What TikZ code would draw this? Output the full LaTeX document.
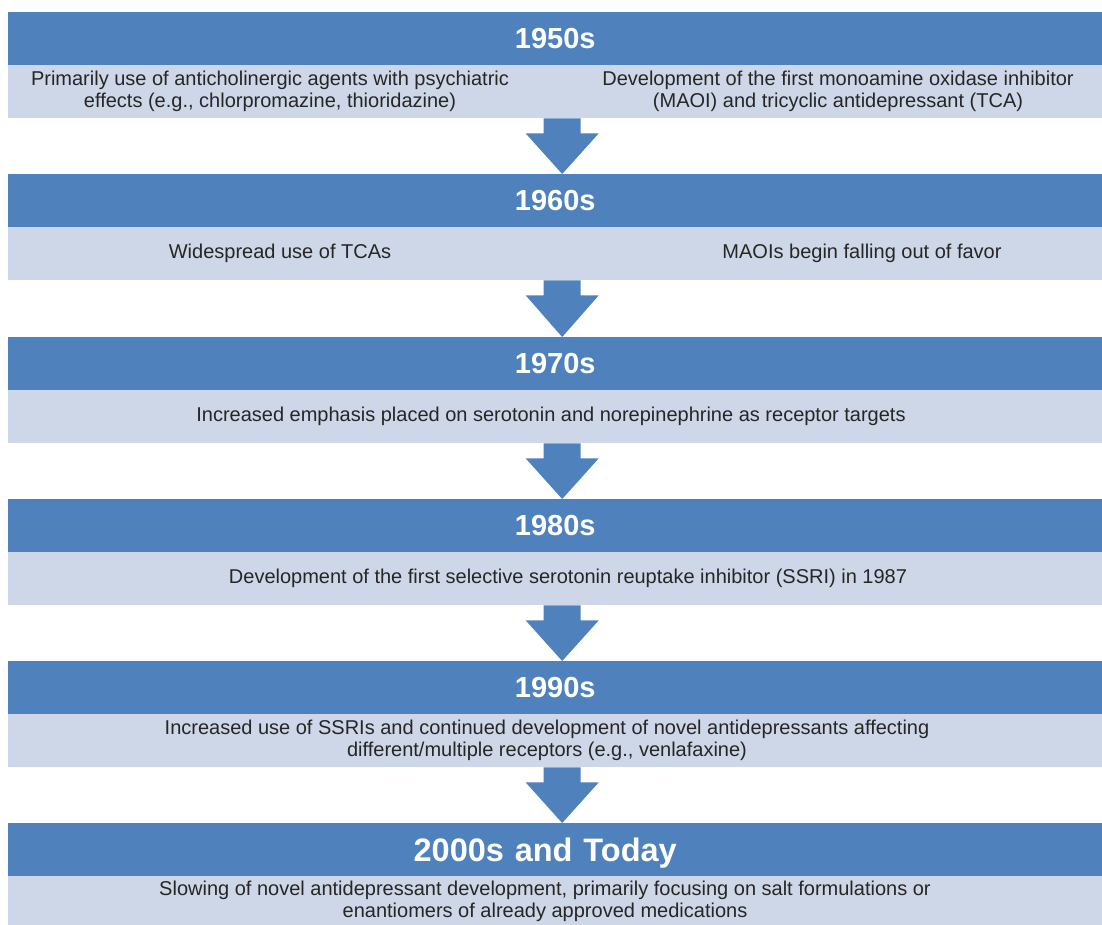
\documentclass[tikz,border=0pt]{standalone}
\usepackage{fontspec}
\setmainfont{Liberation Sans}
\usetikzlibrary{calc}
\definecolor{hblue}{HTML}{4F81BD}
\definecolor{lblue}{HTML}{CED7E7}
\definecolor{txtc}{HTML}{262626}
\newcommand\blockarrow[2]{%
  \fill[hblue] ($(#1.south)+(-11.5,0)$) -- ($(#1.south)+(25.5,0)$) -- ($(#1.south)+(25.5,15)$)
    -- ($(#1.south)+(43.5,15)$) -- ($(#2.north)+(7,0)$) -- ($(#1.south)+(-29.5,15)$)
    -- ($(#1.south)+(-11.5,15)$) -- cycle;}
\begin{document}
\begin{tikzpicture}[x=1pt,y=-1pt,
  hdr/.style={fill=hblue, text=white, font=\fontsize{29}{32}\selectfont\bfseries,
    minimum width=1094pt, minimum height=53pt, inner sep=0pt, anchor=north west},
  band/.style={fill=lblue, minimum width=1094pt, minimum height=53pt, inner sep=0pt, anchor=north west},
  body/.style={text=txtc, font=\fontsize{20}{22}\selectfont, align=center, inner sep=0pt}]
\useasboundingbox (0,0) rectangle (1102,924);
\fill[white] (0,0) rectangle (1102,924);
% 1950s
\node[hdr] (h0) at (8,12) {1950s};
\node[band] (c0) at (8,65) {};
\node[body] (t0a) at (270,91.5) {Primarily use of anticholinergic agents with psychiatric\\effects (e.g., chlorpromazine, thioridazine)};
\node[body] (t0b) at (838,91.5) {Development of the first monoamine oxidase inhibitor\\(MAOI) and tricyclic antidepressant (TCA)};
% 1960s
\node[hdr] (h1) at (8,174) {1960s};
\node[band] (c1) at (8,227) {};
\node[body] (t1a) at (280,253.5) {Widespread use of TCAs};
\node[body] (t1b) at (862,253.5) {MAOIs begin falling out of favor};
% 1970s
\node[hdr] (h2) at (8,337) {1970s};
\node[band] (c2) at (8,390) {};
\node[body] (t2) at (551,416.5) {Increased emphasis placed on serotonin and norepinephrine as receptor targets};
% 1980s
\node[hdr] (h3) at (8,499) {1980s};
\node[band] (c3) at (8,552) {};
\node[body] (t3) at (568,578.5) {Development of the first selective serotonin reuptake inhibitor (SSRI) in 1987};
% 1990s
\node[hdr] (h4) at (8,661) {1990s};
\node[band] (c4) at (8,714) {};
\node[body] (t4) at (547,740.5) {Increased use of SSRIs and continued development of novel antidepressants affecting\\different/multiple receptors (e.g., venlafaxine)};
% 2000s
\node[hdr, font=\fontsize{32.5}{35}\selectfont\bfseries, text width=1094pt, align=center, text depth=0pt] (h5) at (8,823) {\hspace*{-20pt}2000s and Today};
\node[band] (c5) at (8,876) {};
\node[body] (t5) at (545,901) {Slowing of novel antidepressant development, primarily focusing on salt formulations or\\enantiomers of already approved medications};
% arrows
\blockarrow{c0}{h1}
\blockarrow{c1}{h2}
\blockarrow{c2}{h3}
\blockarrow{c3}{h4}
\blockarrow{c4}{h5}
\end{tikzpicture}
\end{document}
